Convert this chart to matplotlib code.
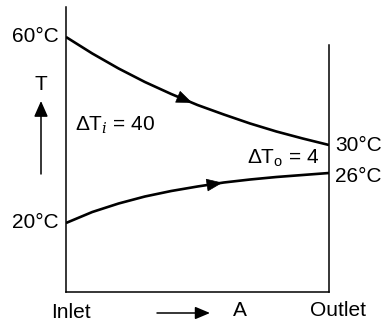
import numpy as np
import matplotlib
matplotlib.use("Agg")
import matplotlib.pyplot as plt
from matplotlib.patches import FancyArrowPatch

plt.rcParams['font.family'] = ['Liberation Sans', 'DejaVu Sans']
plt.rcParams['mathtext.fontset'] = 'custom'
plt.rcParams['mathtext.rm'] = 'Liberation Sans'
plt.rcParams['mathtext.it'] = 'DejaVu Serif:italic'

# position along exchanger (0 = inlet, 1 = outlet)
position = [0.0, 0.1, 0.2, 0.3, 0.4, 0.5, 0.6, 0.7, 0.8, 0.9, 1.0]
# schematic temperature levels (drawing units, not to scale)
hot_fluid = [255, 238.5, 223.5, 210, 198, 187, 177.5, 168.5, 160.5, 153.5, 147]
cold_fluid = [69, 80, 88.5, 95.5, 101, 105.5, 109.5, 112.5, 115, 117, 119]
temp_labels = ['60°C', '30°C', '26°C', '20°C']
delta_labels = [r'$\Delta$T$_{i}$ = 40', r'$\Delta$T$_\mathrm{o}$ = 4']
axis_labels = ['Inlet', 'A', 'Outlet', 'T']

W, H = 382, 321
fig = plt.figure(figsize=(W / 100, H / 100), dpi=100)
ax = fig.add_axes([66 / W, (H - 292) / H, 263 / W, 285 / H])
ax.set_xlim(0, 1)
ax.set_ylim(0, 285)
for s in ['top', 'right']:
    ax.spines[s].set_visible(False)
for s in ['left', 'bottom']:
    ax.spines[s].set_linewidth(1.1)
ax.set_xticks([])
ax.set_yticks([])

ax.plot(position, hot_fluid, color='black', lw=1.9, solid_capstyle='butt')
ax.plot(position, cold_fluid, color='black', lw=1.9, solid_capstyle='butt')
# outlet line
ax.plot([1, 1], [0, 247], color='black', lw=1.1, clip_on=False)

def curve_arrow(series, t0, t1):
    y0 = np.interp(t0, position, series)
    y1 = np.interp(t1, position, series)
    arr = FancyArrowPatch((t0, y0), (t1, y1),
                          arrowstyle='-|>,head_length=10.5,head_width=4.2',
                          mutation_scale=1, lw=0.5, color='black',
                          shrinkA=0, shrinkB=0)
    ax.add_patch(arr)

curve_arrow(hot_fluid, 0.40, 0.48)
curve_arrow(cold_fluid, 0.52, 0.595)

fs = 15
def ftext(x, y, s, ha='left', **kw):
    fig.text(x / W, (H - y) / H, s, ha=ha, va='center', fontsize=fs, **kw)

ftext(59, 36, temp_labels[0], ha='right')
ftext(335, 145, temp_labels[1])
ftext(335, 177, temp_labels[2])
ftext(59, 223, temp_labels[3], ha='right')
ftext(75, 125, delta_labels[0])
ftext(247, 158, delta_labels[1])
ftext(71, 312, axis_labels[0], ha='center')
ftext(240, 311, axis_labels[1], ha='center')
ftext(338, 311, axis_labels[2], ha='center')
ftext(41, 84, axis_labels[3], ha='center')

# T direction arrow
fig.patches.append(FancyArrowPatch((41 / W, (H - 174) / H), (41 / W, (H - 101) / H),
                                   transform=fig.transFigure,
                                   arrowstyle='-|>,head_length=9.5,head_width=4.2',
                                   mutation_scale=1, lw=1.1, color='black',
                                   shrinkA=0, shrinkB=0))
# A direction arrow
fig.patches.append(FancyArrowPatch((157 / W, (H - 313) / H), (210 / W, (H - 313) / H),
                                   transform=fig.transFigure,
                                   arrowstyle='-|>,head_length=9,head_width=3.8',
                                   mutation_scale=1, lw=1.1, color='black',
                                   shrinkA=0, shrinkB=0))

fig.savefig('out.png', dpi=100, facecolor='white')
